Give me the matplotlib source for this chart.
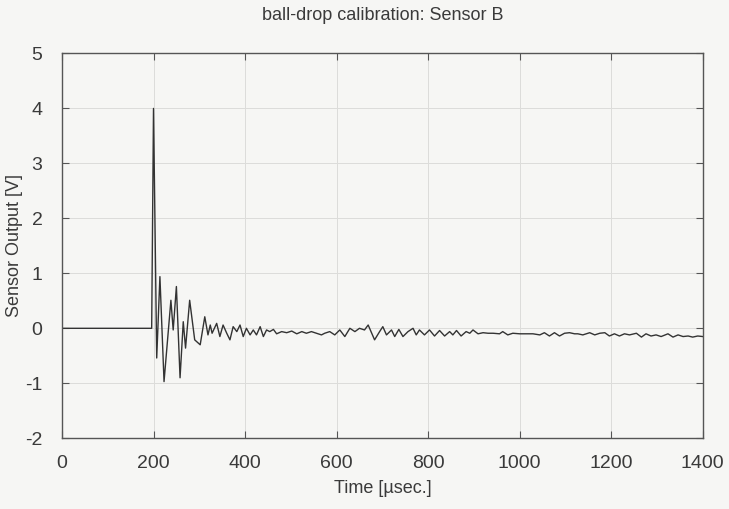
import matplotlib
matplotlib.use("Agg")
import matplotlib.pyplot as plt

# dados (tempo em microssegundos, saida em volts)
time_us = [0, 100, 196, 200, 207, 214, 223, 238, 243, 250, 258, 265, 270, 279, 290, 302,
           312, 319, 324, 328, 338, 345, 352, 360, 367, 374, 382, 389, 396, 403, 411, 418,
           425, 433, 440, 447, 454, 462, 469, 480, 491, 502, 513, 524, 534, 545, 556, 567,
           574, 585, 596, 607, 618, 629, 640, 650, 661, 669, 683, 694, 701, 709, 720, 727,
           736, 745, 756, 767, 774, 781, 792, 803, 814, 825, 836, 847, 854, 862, 872, 883,
           891, 898, 909, 920, 931, 942, 956, 963, 974, 985, 1000, 1014, 1029, 1044, 1054,
           1065, 1076, 1087, 1098, 1109, 1120, 1127, 1138, 1153, 1164, 1175, 1186, 1196,
           1207, 1218, 1229, 1240, 1255, 1266, 1276, 1287, 1298, 1309, 1324, 1335, 1346,
           1357, 1368, 1378, 1389, 1400]
output_v = [0.0, 0.0, 0.0, 4.0, -0.54, 0.94, -0.97, 0.51, -0.03, 0.76, -0.9, 0.12, -0.36, 0.51, -0.21, -0.3,
            0.21, -0.12, 0.06, -0.09, 0.09, -0.15, 0.06, -0.09, -0.21, 0.03, -0.06, 0.06, -0.15, 0.0, -0.12, -0.03,
            -0.12, 0.03, -0.15, -0.03, -0.06, -0.02, -0.1, -0.06, -0.08, -0.05, -0.1, -0.06, -0.09, -0.06, -0.09, -0.12,
            -0.09, -0.06, -0.12, -0.03, -0.15, 0.0, -0.06, 0.0, -0.03, 0.06, -0.21, -0.06, 0.03, -0.12, -0.03, -0.15,
            -0.02, -0.15, -0.06, 0.0, -0.12, -0.03, -0.12, -0.03, -0.14, -0.04, -0.14, -0.06, -0.12, -0.04, -0.14, -0.06,
            -0.09, -0.03, -0.1, -0.08, -0.09, -0.09, -0.1, -0.06, -0.12, -0.09, -0.1, -0.1, -0.1, -0.12, -0.08,
            -0.14, -0.08, -0.14, -0.09, -0.08, -0.1, -0.1, -0.12, -0.08, -0.12, -0.09, -0.08, -0.14,
            -0.1, -0.14, -0.1, -0.12, -0.09, -0.16, -0.1, -0.14, -0.12, -0.15, -0.1, -0.16, -0.12,
            -0.15, -0.14, -0.16, -0.14, -0.15]

x_ticks = [0, 200, 400, 600, 800, 1000, 1200, 1400]
y_ticks = [-2, -1, 0, 1, 2, 3, 4, 5]

plt.rcParams["font.family"] = ["Liberation Sans", "DejaVu Sans"]
plt.rcParams["axes.unicode_minus"] = False  # hifen simples como no original

fig = plt.figure(figsize=(7.29, 5.09), dpi=100, facecolor="#f6f6f4")
ax = fig.add_axes([0.085, 0.139, 0.879, 0.756])
ax.set_facecolor("#f6f6f4")

ax.plot(time_us, output_v, color="#333333", linewidth=1.0)  # sinal do sensor

ax.set_xlim(0, 1400)
ax.set_ylim(-2, 5)
ax.set_xticks(x_ticks)
ax.set_yticks(y_ticks)
ax.grid(True, color="#dcdcda", linewidth=0.7)
ax.tick_params(direction="in", top=True, right=True, length=5, color="#555555",
               labelsize=14, labelcolor="#3a3a3a")
ax.tick_params(axis="x", pad=12)
ax.tick_params(axis="y", pad=14)
for s in ax.spines.values():
    s.set_color("#555555")
    s.set_linewidth(1.0)

ax.set_title("ball-drop calibration: Sensor B", fontsize=13, color="#3a3a3a", pad=24)
ax.set_xlabel("Time [µsec.]", fontsize=13, color="#3a3a3a", labelpad=6)
ax.set_ylabel("Sensor Output [V]", fontsize=13, color="#3a3a3a")
ax.yaxis.set_label_coords(-0.061, 0.5)

plt.savefig("out.png", dpi=100, facecolor=fig.get_facecolor())
plt.close()
